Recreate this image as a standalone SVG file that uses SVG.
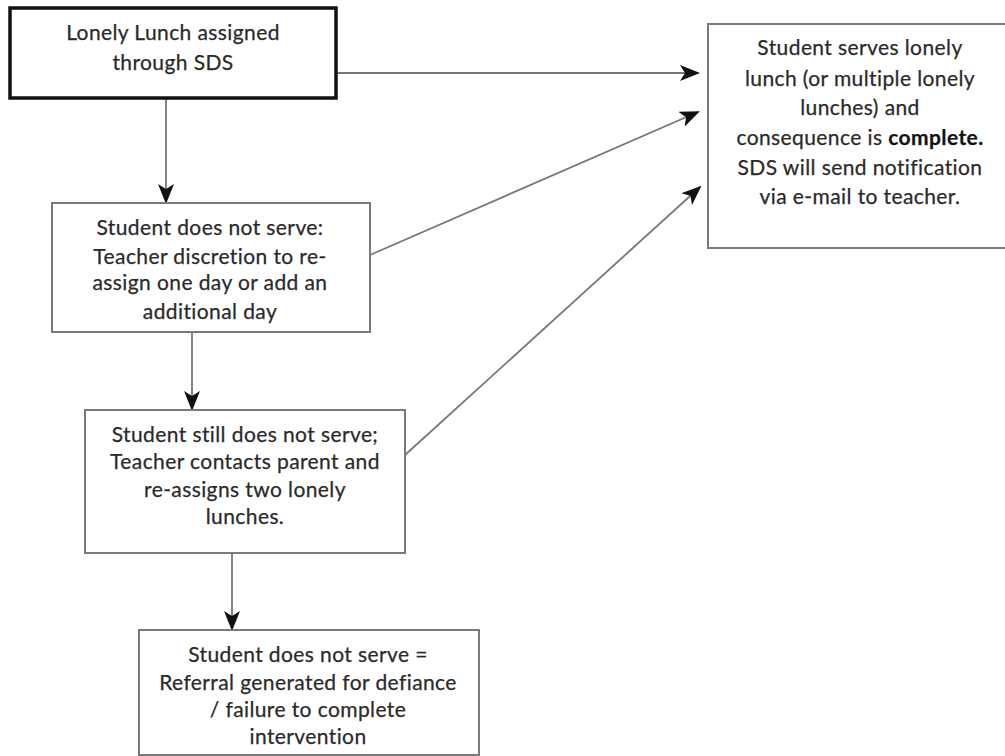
<svg xmlns="http://www.w3.org/2000/svg" width="1005" height="756" viewBox="0 0 1005 756">
<style>
.box{fill:#fff;stroke:#7a7a7a;stroke-width:2}
.start{fill:#fff;stroke:#111;stroke-width:3.5}
.t{font-family:Lato,"Liberation Sans",sans-serif;font-size:21px;letter-spacing:0.4px;fill:#2a2a2a;text-anchor:middle;stroke:#2a2a2a;stroke-width:0.25}
.b{font-weight:bold;fill:#111}
.c{stroke:#777;stroke-width:1.8;fill:none;marker-end:url(#ah)}
</style>
<defs>
<marker id="ah" viewBox="0 0 20 16" refX="18" refY="8" markerWidth="20" markerHeight="16" markerUnits="userSpaceOnUse" orient="auto">
<path d="M0,0 L20,8 L0,16 L5,8 Z" fill="#111"/>
</marker>
</defs>
<g id="connectors">
<line class="c" x1="166" y1="98" x2="166" y2="202"/>
<line class="c" x1="336" y1="73" x2="698" y2="73"/>
<line class="c" x1="370" y1="255" x2="698" y2="112"/>
<line class="c" x1="405" y1="455" x2="700" y2="187"/>
<line class="c" x1="192" y1="332" x2="192" y2="409"/>
<line class="c" x1="232" y1="553" x2="232" y2="629"/>
</g>
<g id="n1">
<rect class="start" x="10" y="8" width="326" height="90"/>
<text class="t" x="173" y="40">Lonely Lunch assigned</text>
<text class="t" x="173" y="70">through SDS</text>
</g>
<g id="n2">
<rect class="box" x="708" y="24" width="310" height="224"/>
<text class="t" x="860" y="55">Student serves lonely</text>
<text class="t" x="860" y="86">lunch (or multiple lonely</text>
<text class="t" x="860" y="115">lunches) and</text>
<text class="t" x="860" y="145">consequence is <tspan class="b">complete.</tspan></text>
<text class="t" x="860" y="175">SDS will send notification</text>
<text class="t" x="860" y="204">via e-mail to teacher.</text>
</g>
<g id="n3">
<rect class="box" x="52" y="203" width="318" height="129"/>
<text class="t" x="210" y="235">Student does not serve:</text>
<text class="t" x="210" y="264">Teacher discretion to re-</text>
<text class="t" x="210" y="290">assign one day or add an</text>
<text class="t" x="210" y="319">additional day</text>
</g>
<g id="n4">
<rect class="box" x="85" y="410" width="320" height="143"/>
<text class="t" x="245" y="442">Student still does not serve;</text>
<text class="t" x="245" y="469">Teacher contacts parent and</text>
<text class="t" x="245" y="497">re-assigns two lonely</text>
<text class="t" x="245" y="524">lunches.</text>
</g>
<g id="n5">
<rect class="box" x="139" y="630" width="340" height="125"/>
<text class="t" x="308" y="662">Student does not serve =</text>
<text class="t" x="308" y="690">Referral generated for defiance</text>
<text class="t" x="308" y="717">/ failure to complete</text>
<text class="t" x="308" y="744">intervention</text>
</g>
</svg>
